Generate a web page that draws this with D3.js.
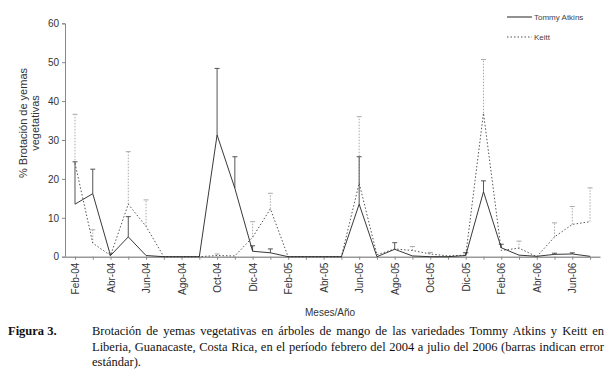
<!DOCTYPE html>
<html><head><meta charset="utf-8">
<script src="https://cdn.jsdelivr.net/npm/d3@7/dist/d3.min.js"></script>
<style>
html,body{margin:0;padding:0;background:#fff;}
svg{display:block;}
</style></head>
<body>
<svg id="chart" width="611" height="375"></svg>
<script>
// Months Feb-04 .. Jul-06
const months = ["Feb-04","Mar-04","Abr-04","May-04","Jun-04","Jul-04","Ago-04","Sep-04","Oct-04","Nov-04","Dic-04","Ene-05",
  "Feb-05","Mar-05","Abr-05","May-05","Jun-05","Jul-05","Ago-05","Sep-05","Oct-05","Nov-05","Dic-05","Ene-06",
  "Feb-06","Mar-06","Abr-06","May-06","Jun-06","Jul-06"];
const tickLabels = ["Feb-04","Abr-04","Jun-04","Ago-04","Oct-04","Dic-04","Feb-05","Abr-05","Jun-05","Ago-05","Oct-05","Dic-05","Feb-06","Abr-06","Jun-06"];
const yTicks = [0,10,20,30,40,50,60];
const tommy = [13.5,16.2,0.3,5.1,0.3,0,0,0,31.3,17.6,1.4,1.0,0,0,0,0,13.5,0,1.9,0.2,0,0,0.3,16.7,2.3,0.4,0.1,0.6,0.7,0.1];
const tommyErr = [24.4,22.5,null,10.3,null,null,null,null,48.4,25.7,2.8,2.0,null,null,null,null,25.7,null,3.6,null,null,null,1.0,19.5,3.2,null,null,0.9,1.0,null];
const keitt = [24.0,3.5,0.3,13.5,7.8,0,0,0,0.3,0.2,5.0,12.3,0,0,0,0,18.9,0.5,2.0,1.6,0.7,0.2,0.4,36.9,1.6,2.2,0,5.1,8.3,9.0];
const keittErr = [36.6,6.9,0.9,27.0,14.6,null,null,null,0.7,null,9.0,16.3,null,null,null,null,36.0,null,null,2.6,1.1,null,1.1,50.7,null,4.0,null,8.7,12.9,17.7];
const seriesNames = ["Tommy Atkins","Keitt"];
const caption1 = "Brotación de yemas vegetativas en árboles de mango de las variedades Tommy Atkins y Keitt en";
const caption2 = "Liberia, Guanacaste, Costa Rica, en el período febrero del 2004 a julio del 2006 (barras indican error";
const caption3 = "estándar).";

const svg = d3.select("#chart");
const x = d3.scaleLinear().domain([-0.563, 29.56]).range([65, 600]);
const y = d3.scaleLinear().domain([0, 60]).range([256.7, 23.3]);
const sans = "'Liberation Sans', Arial, sans-serif";
const serif = "'Liberation Serif', 'Times New Roman', serif";

// Y axis
const yAxis = svg.append("g").attr("transform","translate(65,0)")
  .call(d3.axisLeft(y).tickValues(yTicks).tickSize(3).tickPadding(3));
yAxis.select(".domain").attr("stroke","#888");
yAxis.selectAll(".tick line").attr("stroke","#888");
yAxis.selectAll("text").attr("font-family",sans).attr("font-size",10).attr("fill","#333");

// X axis
const xAxis = svg.append("g").attr("transform","translate(0,256.7)")
  .call(d3.axisBottom(x).tickValues(d3.range(0,30)).tickSize(3).tickSizeOuter(0)
    .tickFormat(i => tickLabels.includes(months[i]) ? months[i] : ""));
xAxis.select(".domain").attr("stroke","#999").attr("stroke-width",1.5);
xAxis.selectAll(".tick line").attr("stroke","#888");
xAxis.selectAll("text").attr("font-family",sans).attr("font-size",10).attr("fill","#333")
  .attr("transform","rotate(-90)").attr("text-anchor","end")
  .attr("x",-6).attr("y",0).attr("dy","0.35em");

// Error bars
function errBars(vals, errs, cls, color, dash){
  const idx = d3.range(vals.length).filter(i => errs[i] != null);
  const g = svg.append("g").attr("class",cls).attr("stroke",color).attr("fill","none").attr("stroke-width",1);
  g.selectAll("line.v").data(idx).join("line").attr("class","v")
    .attr("x1",i=>x(i)).attr("x2",i=>x(i)).attr("y1",i=>y(vals[i])).attr("y2",i=>y(errs[i]))
    .attr("stroke-dasharray",dash);
  g.selectAll("line.c").data(idx).join("line").attr("class","c")
    .attr("x1",i=>x(i)-2.5).attr("x2",i=>x(i)+2.5).attr("y1",i=>y(errs[i])).attr("y2",i=>y(errs[i]));
}
errBars(keitt, keittErr, "ek", "#aaa", "1.5,1.5");
errBars(tommy, tommyErr, "et", "#555", null);

const line = d3.line().x((d,i)=>x(i)).y(d=>y(d));
svg.append("path").datum(keitt).attr("d",line).attr("fill","none")
  .attr("stroke","#555").attr("stroke-width",1).attr("stroke-dasharray","1.5,2");
svg.append("path").datum(tommy).attr("d",line).attr("fill","none")
  .attr("stroke","#222").attr("stroke-width",0.9);

// Legend
const lg = svg.append("g");
lg.append("line").attr("x1",507).attr("x2",532).attr("y1",17).attr("y2",17).attr("stroke","#222");
lg.append("line").attr("x1",507).attr("x2",532).attr("y1",37).attr("y2",37).attr("stroke","#555").attr("stroke-dasharray","1.5,2");
lg.selectAll("text").data(seriesNames).join("text")
  .attr("x",534).attr("y",(d,i)=>20+i*20).text(d=>d)
  .attr("font-family",sans).attr("font-size",8).attr("fill","#444");

// Axis titles
const yt = svg.append("text").attr("transform","translate(27,123) rotate(-90)")
  .attr("text-anchor","middle").attr("font-family",sans).attr("font-size",11).attr("fill","#333");
yt.append("tspan").attr("x",0).attr("dy",0).text("% Brotación de yemas");
yt.append("tspan").attr("x",0).attr("dy",12).text("vegetativas");
svg.append("text").attr("x",330).attr("y",316).attr("text-anchor","middle")
  .attr("font-family",sans).attr("font-size",10).attr("fill","#333").text("Meses/Año");

// Caption
svg.append("text").attr("x",8).attr("y",335).attr("font-family",serif).attr("font-size",12.5)
  .attr("font-weight","bold").attr("fill","#111").text("Figura 3.");
const capLines = [caption1, caption2, caption3];
capLines.forEach((t,i) => {
  const el = svg.append("text").attr("x",92).attr("y",335+i*15.5).attr("font-family",serif)
    .attr("font-size",12.5).attr("fill","#111").text(t);
  if (i < 2) {
    const w = el.node().getComputedTextLength();
    const spaces = t.split(" ").length - 1;
    el.attr("word-spacing", ((604-92) - w)/spaces);
  }
});
</script>
</body></html>
